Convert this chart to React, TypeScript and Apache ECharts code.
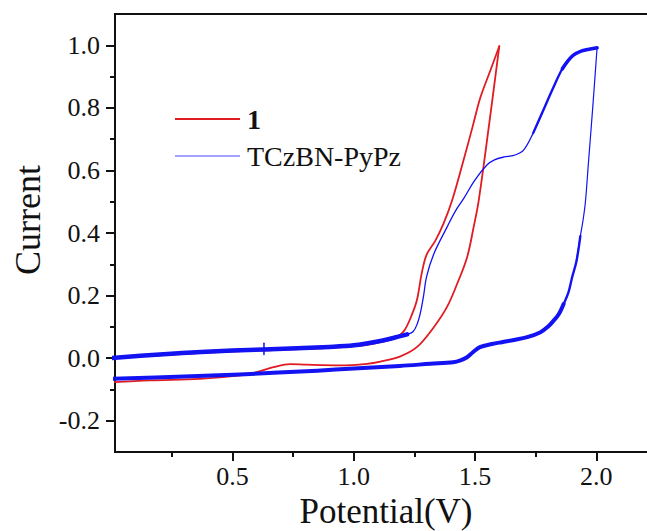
import React, { useEffect, useRef } from "react";
import * as echarts from "echarts";

// Cyclic voltammograms: compound 1 and TCzBN-PyPz
const SERIF = "'Liberation Serif', 'Times New Roman', serif";

const xMin = 0.016;
const xMax = 2.25;
const yMin = -0.3;
const yMax = 1.1;

const xMajorTicks = [0.5, 1.0, 1.5, 2.0];
const xMinorTicks = [0.25, 0.75, 1.25, 1.75];
const yMajorTicks = [-0.2, 0.0, 0.2, 0.4, 0.6, 0.8, 1.0];
const yMinorTicks = [-0.1, 0.1, 0.3, 0.5, 0.7, 0.9];

// compound 1, anodic sweep
const redForward: number[][] = [
  [0.0, 0.0], [0.2, 0.009], [0.4, 0.018], [0.63, 0.025], [0.9, 0.033],
  [1.05, 0.042], [1.13, 0.054], [1.17, 0.064], [1.19, 0.074], [1.21, 0.09],
  [1.235, 0.13], [1.26, 0.184], [1.28, 0.27], [1.3, 0.33], [1.336, 0.375],
  [1.37, 0.43], [1.405, 0.503], [1.45, 0.625], [1.49, 0.74], [1.522, 0.833],
  [1.56, 0.913], [1.6, 0.997],
];
// compound 1, cathodic sweep
const redReverse: number[][] = [
  [1.6, 0.997], [1.556, 0.735], [1.515, 0.503], [1.494, 0.418], [1.467, 0.322],
  [1.426, 0.237], [1.384, 0.163], [1.33, 0.099], [1.26, 0.035], [1.19, 0.005],
  [1.11, -0.011], [1.055, -0.018], [0.944, -0.023], [0.807, -0.021], [0.738, -0.019],
  [0.669, -0.029], [0.6, -0.045], [0.532, -0.055], [0.366, -0.066], [0.16, -0.071],
  [0.0, -0.077],
];

// TCzBN-PyPz, anodic sweep: baseline, rise and shoulder, plateau
const blueBase: number[][] = [
  [0.0, 0.0], [0.2, 0.012], [0.37, 0.02], [0.63, 0.028], [0.9, 0.036],
  [1.0, 0.041], [1.11, 0.055], [1.17, 0.066], [1.22, 0.076],
];
const blueRise: number[][] = [
  [1.17, 0.066], [1.22, 0.076], [1.245, 0.085], [1.262, 0.11], [1.274, 0.142],
  [1.288, 0.2], [1.3, 0.26], [1.33, 0.333], [1.384, 0.418], [1.419, 0.47],
  [1.453, 0.51], [1.5, 0.57], [1.55, 0.618], [1.58, 0.634], [1.62, 0.643],
  [1.66, 0.648], [1.7, 0.665], [1.74, 0.72], [1.78, 0.79],
];
const blueUpper: number[][] = [
  [1.74, 0.72], [1.78, 0.79], [1.82, 0.86], [1.86, 0.925], [1.9, 0.965],
];
const bluePlateau: number[][] = [
  [1.86, 0.925], [1.9, 0.965], [1.94, 0.982], [1.975, 0.988], [2.003, 0.992],
];
// TCzBN-PyPz, cathodic sweep
const blueReturn: number[][] = [
  [2.003, 0.992], [1.985, 0.8], [1.967, 0.62], [1.955, 0.5], [1.945, 0.44],
  [1.934, 0.39], [1.918, 0.31],
];
const blueReturnLow: number[][] = [
  [1.934, 0.39], [1.918, 0.31], [1.9, 0.258], [1.885, 0.21], [1.865, 0.173],
  [1.845, 0.14],
];
const blueLower: number[][] = [
  [1.865, 0.173], [1.845, 0.14], [1.824, 0.12], [1.8, 0.1], [1.77, 0.083],
  [1.715, 0.067], [1.66, 0.058], [1.61, 0.051], [1.57, 0.045], [1.52, 0.035],
  [1.49, 0.018], [1.467, 0.003], [1.44, -0.007], [1.41, -0.013], [1.316, -0.018],
  [1.19, -0.025], [1.0, -0.033], [0.85, -0.04], [0.53, -0.052], [0.3, -0.059],
  [0.0, -0.066],
];
// start-of-scan marker on the baseline
const blueMarker: number[][] = [[0.63, 0.012], [0.63, 0.048]];

const RED = "#e01b22";
const BLUE = "#1212f2";
const NAME_1 = "1";
const NAME_2 = "TCzBN-PyPz";

function lineSeries(name: string, data: number[][], color: string, width: number, z: number) {
  return {
    type: "line",
    name,
    data,
    xAxisIndex: 0,
    yAxisIndex: 0,
    symbol: "none",
    showSymbol: false,
    smooth: 0.35,
    z,
    lineStyle: { color, width, cap: "round", join: "round" },
    itemStyle: { color },
    emphasis: { disabled: true },
  };
}

const axisLine = { show: true, onZero: false, lineStyle: { color: "#111", width: 2 } };

export default function App() {
  const ref = useRef<HTMLDivElement>(null);

  useEffect(() => {
    if (!ref.current) return;
    const chart = echarts.init(ref.current, null, { renderer: "svg" });
    chart.setOption({
      animation: false,
      backgroundColor: "#ffffff",
      grid: {
        left: 115,
        top: 14,
        right: -10,
        bottom: 79,
        containLabel: false,
        outerBoundsMode: "none",
        show: true,
        borderColor: "#111",
        borderWidth: 2,
        backgroundColor: "transparent",
      },
      legend: [
        {
          data: [{ name: NAME_1, icon: "rect", itemStyle: { color: RED } }],
          left: 175,
          top: 105,
          padding: 0,
          itemWidth: 65,
          itemHeight: 2,
          selectedMode: false,
          textStyle: { fontFamily: SERIF, fontSize: 28, fontWeight: "bold", color: "#111", padding: [0, 0, 0, 2] },
        },
        {
          data: [{ name: NAME_2, icon: "rect", itemStyle: { color: "#4848ff" } }],
          left: 175,
          top: 142,
          padding: 0,
          itemWidth: 65,
          itemHeight: 1,
          selectedMode: false,
          textStyle: { fontFamily: SERIF, fontSize: 28, color: "#111", padding: [0, 0, 0, 2] },
        },
      ],
      xAxis: [
        {
          type: "value",
          position: "bottom",
          min: xMin,
          max: xMax,
          axisLine,
          axisTick: { show: true, inside: false, length: 9, customValues: xMajorTicks, lineStyle: { color: "#111", width: 2 } },
          axisLabel: {
            show: true,
            customValues: xMajorTicks,
            formatter: (v: number) => v.toFixed(1),
            margin: 14.5,
            lineHeight: 20,
            fontFamily: SERIF,
            fontSize: 26,
            color: "#111",
          },
          splitLine: { show: false },
          name: "Potential(V)",
          nameLocation: "middle",
          nameGap: 41.5,
          nameMoveOverlap: false,
          nameTextStyle: { fontFamily: SERIF, fontSize: 35, lineHeight: 35, color: "#111" },
        },
        {
          type: "value",
          position: "bottom",
          min: xMin,
          max: xMax,
          axisLine: { show: false, onZero: false },
          axisTick: { show: true, inside: false, length: 5, customValues: xMinorTicks, lineStyle: { color: "#111", width: 2 } },
          axisLabel: { show: false },
          splitLine: { show: false },
        },
      ],
      yAxis: [
        {
          type: "value",
          position: "left",
          min: yMin,
          max: yMax,
          axisLine,
          axisTick: { show: true, inside: false, length: 9, customValues: yMajorTicks, lineStyle: { color: "#111", width: 2 } },
          axisLabel: {
            show: true,
            customValues: yMajorTicks,
            formatter: (v: number) => v.toFixed(1),
            margin: 15,
            fontFamily: SERIF,
            fontSize: 26,
            color: "#111",
          },
          splitLine: { show: false },
          name: "Current",
          nameLocation: "middle",
          nameGap: 69,
          nameMoveOverlap: false,
          nameRotate: 90,
          nameTextStyle: { fontFamily: SERIF, fontSize: 36, color: "#111", padding: [0, 0, 0, 26] },
        },
        {
          type: "value",
          position: "left",
          offset: 0,
          min: yMin,
          max: yMax,
          axisLine: { show: false, onZero: false },
          axisTick: { show: true, inside: false, length: 5, customValues: yMinorTicks, lineStyle: { color: "#111", width: 2 } },
          axisLabel: { show: false },
          splitLine: { show: false },
        },
      ],
      series: [
        lineSeries(NAME_1, redForward, RED, 1.8, 2),
        lineSeries(NAME_1, redReverse, RED, 1.8, 2),
        lineSeries(NAME_2, blueRise, BLUE, 1.3, 3),
        lineSeries(NAME_2, blueBase, BLUE, 4.5, 4),
        lineSeries(NAME_2, blueUpper, BLUE, 2.4, 4),
        lineSeries(NAME_2, bluePlateau, BLUE, 3.6, 5),
        lineSeries(NAME_2, blueReturn, BLUE, 1.2, 3),
        lineSeries(NAME_2, blueReturnLow, BLUE, 2.4, 4),
        lineSeries(NAME_2, blueLower, BLUE, 4, 5),
        { ...lineSeries(NAME_2, blueMarker, BLUE, 1.5, 5), smooth: false },
      ],
    });
    return () => chart.dispose();
  }, []);

  return (
    <div
      ref={ref}
      style={{ position: "fixed", left: 0, top: 0, width: 647, height: 531, background: "#fff" }}
    />
  );
}
